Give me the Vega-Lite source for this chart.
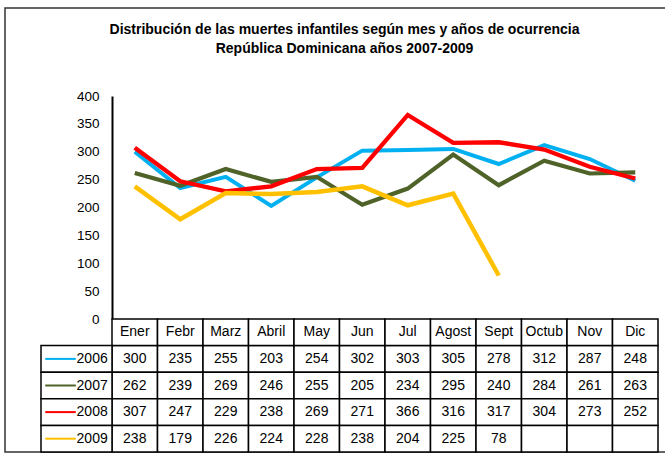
{
  "$schema": "https://vega.github.io/schema/vega-lite/v6.json",
  "width": 663,
  "height": 444,
  "autosize": {"type": "none"},
  "padding": {"left": 5, "top": 8, "right": -3, "bottom": 7},
  "background": "white",
  "title": {
    "text": ["Distribución de las muertes infantiles según mes y años de ocurrencia", "República Dominicana años 2007-2009"],
    "anchor": "middle", "frame": "group", "dx": 8, "offset": -47.5, "baseline": "top",
    "fontSize": 14, "fontWeight": "bold", "font": "Liberation Sans, Arial, sans-serif",
    "lineHeight": 19, "color": "#000"
  },
  "config": {
    "view": {"stroke": "#333", "strokeWidth": 1.5},
    "font": "Liberation Sans, Arial, sans-serif"
  },
  "datasets": {
    "tabla": [
      {"mes": "Ener", "año": "2006", "muertes": 300}, {"mes": "Febr", "año": "2006", "muertes": 235}, {"mes": "Marz", "año": "2006", "muertes": 255}, {"mes": "Abril", "año": "2006", "muertes": 203}, {"mes": "May", "año": "2006", "muertes": 254}, {"mes": "Jun", "año": "2006", "muertes": 302}, {"mes": "Jul", "año": "2006", "muertes": 303}, {"mes": "Agost", "año": "2006", "muertes": 305}, {"mes": "Sept", "año": "2006", "muertes": 278}, {"mes": "Octub", "año": "2006", "muertes": 312}, {"mes": "Nov", "año": "2006", "muertes": 287}, {"mes": "Dic", "año": "2006", "muertes": 248},
      {"mes": "Ener", "año": "2007", "muertes": 262}, {"mes": "Febr", "año": "2007", "muertes": 239}, {"mes": "Marz", "año": "2007", "muertes": 269}, {"mes": "Abril", "año": "2007", "muertes": 246}, {"mes": "May", "año": "2007", "muertes": 255}, {"mes": "Jun", "año": "2007", "muertes": 205}, {"mes": "Jul", "año": "2007", "muertes": 234}, {"mes": "Agost", "año": "2007", "muertes": 295}, {"mes": "Sept", "año": "2007", "muertes": 240}, {"mes": "Octub", "año": "2007", "muertes": 284}, {"mes": "Nov", "año": "2007", "muertes": 261}, {"mes": "Dic", "año": "2007", "muertes": 263},
      {"mes": "Ener", "año": "2008", "muertes": 307}, {"mes": "Febr", "año": "2008", "muertes": 247}, {"mes": "Marz", "año": "2008", "muertes": 229}, {"mes": "Abril", "año": "2008", "muertes": 238}, {"mes": "May", "año": "2008", "muertes": 269}, {"mes": "Jun", "año": "2008", "muertes": 271}, {"mes": "Jul", "año": "2008", "muertes": 366}, {"mes": "Agost", "año": "2008", "muertes": 316}, {"mes": "Sept", "año": "2008", "muertes": 317}, {"mes": "Octub", "año": "2008", "muertes": 304}, {"mes": "Nov", "año": "2008", "muertes": 273}, {"mes": "Dic", "año": "2008", "muertes": 252},
      {"mes": "Ener", "año": "2009", "muertes": 238}, {"mes": "Febr", "año": "2009", "muertes": 179}, {"mes": "Marz", "año": "2009", "muertes": 226}, {"mes": "Abril", "año": "2009", "muertes": 224}, {"mes": "May", "año": "2009", "muertes": 228}, {"mes": "Jun", "año": "2009", "muertes": 238}, {"mes": "Jul", "año": "2009", "muertes": 204}, {"mes": "Agost", "año": "2009", "muertes": 225}, {"mes": "Sept", "año": "2009", "muertes": 78}, {"mes": "Octub", "año": "2009", "muertes": null}, {"mes": "Nov", "año": "2009", "muertes": null}, {"mes": "Dic", "año": "2009", "muertes": null}
    ],
    "meses": [
      {"mes": "Ener"}, {"mes": "Febr"}, {"mes": "Marz"}, {"mes": "Abril"}, {"mes": "May"}, {"mes": "Jun"}, {"mes": "Jul"}, {"mes": "Agost"}, {"mes": "Sept"}, {"mes": "Octub"}, {"mes": "Nov"}, {"mes": "Dic"}
    ],
    "anios": [
      {"año": "2006"}, {"año": "2007"}, {"año": "2008"}, {"año": "2009"}
    ]
  },
  "resolve": {"scale": {"x": "independent", "y": "independent"}},
  "layer": [
    {
      "data": {"name": "tabla"},
      "transform": [{"filter": "datum.muertes != null"}],
      "mark": {"type": "line", "strokeJoin": "miter"},
      "encoding": {
        "x": {"field": "mes", "type": "nominal", "axis": null,
              "scale": {"type": "band", "domain": ["Ener", "Febr", "Marz", "Abril", "May", "Jun", "Jul", "Agost", "Sept", "Octub", "Nov", "Dic"], "range": [107, 653], "paddingInner": 0, "paddingOuter": 0}},
        "y": {"field": "muertes", "type": "quantitative",
              "scale": {"domain": [0, 400], "range": [311, 88], "nice": false, "zero": true},
              "axis": {"orient": "left", "offset": -107, "values": [0, 50, 100, 150, 200, 250, 300, 350, 400], "grid": false, "ticks": false, "tickSize": 0, "domain": true, "domainColor": "#000", "domainWidth": 2, "labelFontSize": 13.5, "labelColor": "#000", "labelPadding": 13, "title": null}},
        "color": {"field": "año", "type": "nominal", "legend": null,
                  "scale": {"domain": ["2006", "2007", "2008", "2009"], "range": ["#00b0f0", "#4f6228", "#ff0000", "#ffc000"]}},
        "strokeWidth": {"field": "año", "type": "nominal", "legend": null,
                        "scale": {"domain": ["2006", "2007", "2008", "2009"], "range": [4, 4.5, 5, 3]}}
      }
    },
    {
      "data": {"name": "tabla"},
      "mark": {"type": "rect", "fill": "white", "stroke": "#000", "strokeWidth": 1.5},
      "encoding": {
        "x": {"field": "mes", "type": "nominal", "axis": null,
              "scale": {"type": "band", "domain": ["Ener", "Febr", "Marz", "Abril", "May", "Jun", "Jul", "Agost", "Sept", "Octub", "Nov", "Dic"], "range": [107, 653], "paddingInner": 0, "paddingOuter": 0}},
        "y": {"field": "año", "type": "nominal", "axis": null,
              "scale": {"type": "band", "domain": ["Mes", "2006", "2007", "2008", "2009"], "range": [311, 444], "paddingInner": 0, "paddingOuter": 0}}
      }
    },
    {
      "data": {"name": "meses"},
      "mark": {"type": "rect", "fill": "white", "stroke": "#000", "strokeWidth": 1.5},
      "encoding": {
        "x": {"field": "mes", "type": "nominal", "axis": null,
              "scale": {"type": "band", "domain": ["Ener", "Febr", "Marz", "Abril", "May", "Jun", "Jul", "Agost", "Sept", "Octub", "Nov", "Dic"], "range": [107, 653], "paddingInner": 0, "paddingOuter": 0}},
        "y": {"datum": "Mes", "type": "nominal", "axis": null,
              "scale": {"type": "band", "domain": ["Mes", "2006", "2007", "2008", "2009"], "range": [311, 444], "paddingInner": 0, "paddingOuter": 0}}
      }
    },
    {
      "data": {"name": "tabla"},
      "transform": [{"filter": "datum.muertes != null"}],
      "mark": {"type": "text", "fontSize": 14, "color": "#000", "baseline": "middle", "align": "center"},
      "encoding": {
        "x": {"field": "mes", "type": "nominal", "axis": null,
              "scale": {"type": "band", "domain": ["Ener", "Febr", "Marz", "Abril", "May", "Jun", "Jul", "Agost", "Sept", "Octub", "Nov", "Dic"], "range": [107, 653], "paddingInner": 0, "paddingOuter": 0}},
        "y": {"field": "año", "type": "nominal", "axis": null,
              "scale": {"type": "band", "domain": ["Mes", "2006", "2007", "2008", "2009"], "range": [311, 444], "paddingInner": 0, "paddingOuter": 0}},
        "text": {"field": "muertes", "type": "quantitative"}
      }
    },
    {
      "data": {"name": "meses"},
      "mark": {"type": "text", "fontSize": 14, "color": "#000", "baseline": "middle", "align": "center"},
      "encoding": {
        "x": {"field": "mes", "type": "nominal", "axis": null,
              "scale": {"type": "band", "domain": ["Ener", "Febr", "Marz", "Abril", "May", "Jun", "Jul", "Agost", "Sept", "Octub", "Nov", "Dic"], "range": [107, 653], "paddingInner": 0, "paddingOuter": 0}},
        "y": {"datum": "Mes", "type": "nominal", "axis": null,
              "scale": {"type": "band", "domain": ["Mes", "2006", "2007", "2008", "2009"], "range": [311, 444], "paddingInner": 0, "paddingOuter": 0}},
        "text": {"field": "mes", "type": "nominal"}
      }
    },
    {
      "data": {"name": "anios"},
      "mark": {"type": "rect", "fill": "white", "stroke": "#000", "strokeWidth": 1.5},
      "encoding": {
        "x": {"datum": 0, "type": "quantitative", "axis": null, "scale": {"domain": [0, 1], "range": [36, 107], "nice": false, "zero": false}},
        "x2": {"datum": 1},
        "y": {"field": "año", "type": "nominal", "axis": null,
              "scale": {"type": "band", "domain": ["Mes", "2006", "2007", "2008", "2009"], "range": [311, 444], "paddingInner": 0, "paddingOuter": 0}}
      }
    },
    {
      "data": {"name": "anios"},
      "mark": {"type": "rule", "strokeWidth": 2},
      "encoding": {
        "x": {"datum": 0.06, "type": "quantitative", "axis": null, "scale": {"domain": [0, 1], "range": [36, 107], "nice": false, "zero": false}},
        "x2": {"datum": 0.49},
        "y": {"field": "año", "type": "nominal", "axis": null,
              "scale": {"type": "band", "domain": ["Mes", "2006", "2007", "2008", "2009"], "range": [311, 444], "paddingInner": 0, "paddingOuter": 0}},
        "color": {"field": "año", "type": "nominal", "legend": null,
                  "scale": {"domain": ["2006", "2007", "2008", "2009"], "range": ["#00b0f0", "#4f6228", "#ff0000", "#ffc000"]}}
      }
    },
    {
      "data": {"name": "anios"},
      "mark": {"type": "text", "fontSize": 14, "color": "#000", "baseline": "middle", "align": "right"},
      "encoding": {
        "x": {"datum": 0.94, "type": "quantitative", "axis": null, "scale": {"domain": [0, 1], "range": [36, 107], "nice": false, "zero": false}},
        "y": {"field": "año", "type": "nominal", "axis": null,
              "scale": {"type": "band", "domain": ["Mes", "2006", "2007", "2008", "2009"], "range": [311, 444], "paddingInner": 0, "paddingOuter": 0}},
        "text": {"field": "año", "type": "nominal"}
      }
    }
  ]
}
